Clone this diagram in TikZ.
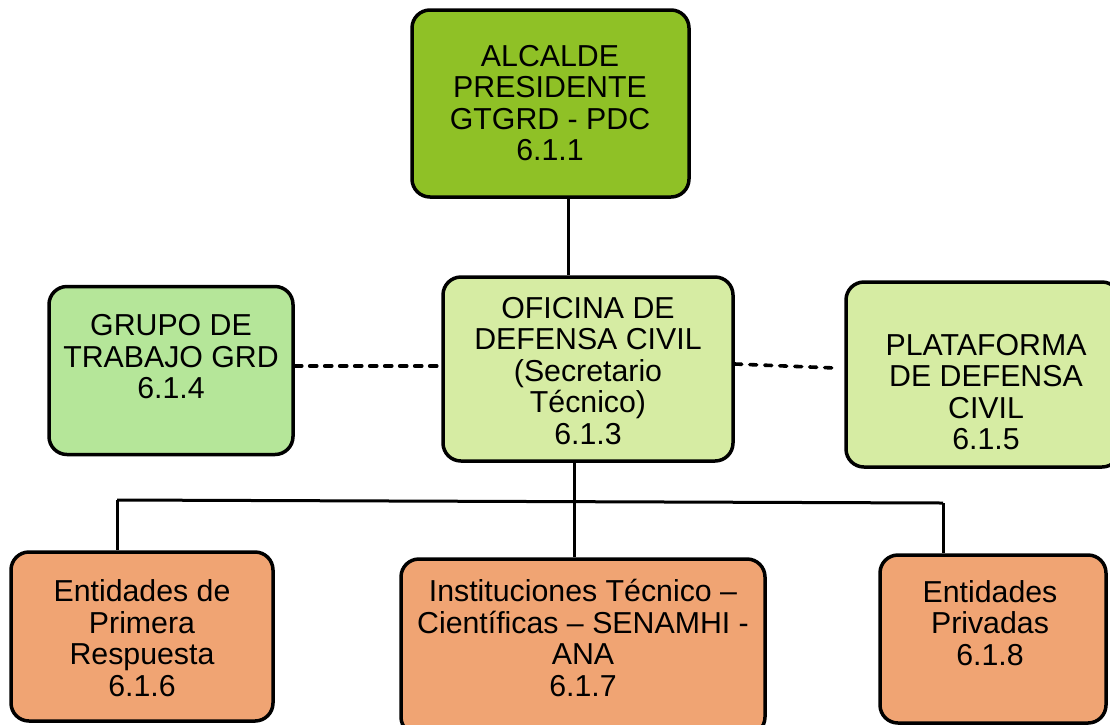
\documentclass[tikz,border=0pt]{standalone}
\usepackage{fontspec}
\setmainfont{Liberation Sans}
\definecolor{cTop}{RGB}{143,193,38}
\definecolor{cOfi}{RGB}{214,236,163}
\definecolor{cGrp}{RGB}{181,230,153}
\definecolor{cBot}{RGB}{240,164,115}
\tikzset{
  box/.style={draw=black, line width=3.5pt, rounded corners=18pt, inner sep=0pt},
  txt/.style={inner sep=0pt, align=center, font=\fontsize{30.3}{31.5}\selectfont},
  link/.style={line width=3pt},
  dlink/.style={line width=3.6pt, line cap=round, dash pattern=on 7pt off 8pt}
}
\begin{document}
\begin{tikzpicture}[x=1pt,y=-1pt]
\useasboundingbox (0,0) rectangle (1110,724);
\clip (0,0) rectangle (1110,724);
% boxes
\node[box, fill=cTop, minimum width=277pt, minimum height=187pt] (top) at (550.5,103.5) {};
\node[box, fill=cOfi, minimum width=290pt, minimum height=184pt] (ofi) at (588,369) {};
\node[box, fill=cGrp, minimum width=244pt, minimum height=168pt] (grp) at (171,370.5) {};
\node[box, fill=cOfi, minimum width=274pt, minimum height=185pt] (plat) at (983,374.5) {};
\node[box, fill=cBot, minimum width=262pt, minimum height=169pt] (bl) at (142,636.5) {};
\node[box, fill=cBot, minimum width=364pt, minimum height=176pt] (mid) at (583,647) {};
\node[box, fill=cBot, minimum width=226pt, minimum height=168pt] (br) at (993,639) {};
% texts
\node[txt] (ttop) at (550,103) {ALCALDE\\PRESIDENTE\\GTGRD - PDC\\6.1.1};
\node[txt] (tofi) at (588,371) {OFICINA DE\\DEFENSA CIVIL\\(Secretario\\Técnico)\\6.1.3};
\node[txt] (tgrp) at (171,357) {GRUPO DE\\TRABAJO GRD\\6.1.4};
\node[txt] (tplat) at (986,392) {PLATAFORMA\\DE DEFENSA\\CIVIL\\6.1.5};
\node[txt] (tbl) at (142,638) {Entidades de\\Primera\\Respuesta\\6.1.6};
\node[txt] (tmid) at (583,638) {Instituciones Técnico –\\Científicas – SENAMHI -\\ANA\\6.1.7};
\node[txt] (tbr) at (990,623) {Entidades\\Privadas\\6.1.8};
% connectors
\coordinate (topC) at (568,0);
\draw[link] (top.south -| topC) -- (ofi.north -| topC);
\draw[dlink] (grp.east |- 0,366) -- (ofi.west |- 0,366);
\coordinate (pEnd) at (835,368);
\draw[dlink] (ofi.east |- 0,364) -- (pEnd);
\coordinate (busL) at (117,500);
\coordinate (busR) at (943,503);
\coordinate (busC) at (574,500);
\draw[link] (busL) -- (busR);
\draw[link] (ofi.south -| busC) -- (mid.north -| busC);
\draw[link] (busL) -- (bl.north -| busL);
\draw[link] (busR) -- (br.north -| busR);
\end{tikzpicture}
\end{document}
